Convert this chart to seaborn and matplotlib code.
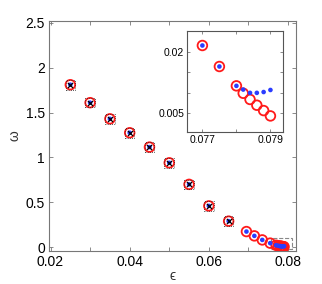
import matplotlib
matplotlib.use("Agg")
import matplotlib.pyplot as plt
import seaborn as sns
import pandas as pd
from matplotlib.patches import Rectangle

# main curve: epsilon vs omega
eps_main = [0.025, 0.030, 0.035, 0.040, 0.045, 0.050, 0.055, 0.060, 0.065,
            0.0695, 0.0715, 0.0735, 0.0755, 0.077, 0.0775, 0.078,
            0.0782, 0.0784, 0.0786, 0.0788, 0.079]
omega_red = [1.81, 1.61, 1.43, 1.275, 1.115, 0.94, 0.70, 0.46, 0.29,
             0.174, 0.126, 0.081, 0.045, 0.0215, 0.0164, 0.0117,
             0.0099, 0.0084, 0.0070, 0.0057, 0.0044]
omega_blue = [1.81, 1.61, 1.43, 1.275, 1.115, 0.94, 0.70, 0.46, 0.29,
              0.174, 0.126, 0.081, 0.045, 0.0215, 0.0164, 0.0117,
              0.0108, 0.0100, 0.0100, 0.0102, 0.0107]
# black reference points only up to 0.065
eps_black = eps_main[:9]
omega_black = omega_red[:9]

df = pd.DataFrame({"eps": eps_main, "red": omega_red, "blue": omega_blue})
df_black = pd.DataFrame({"eps": eps_black, "omega": omega_black})

sns.set_style("ticks")
plt.rcParams["font.family"] = ["Liberation Sans", "DejaVu Sans"]

fig = plt.figure(figsize=(3.22, 2.84), dpi=100)
ax = fig.add_axes([0.152, 0.117, 0.767, 0.809])


def draw_points(a, d, big, small, black=None):
    sns.scatterplot(data=d, x="eps", y="red", ax=a, marker="o", s=big,
                    facecolors="none", edgecolors="#ff1a1a", linewidths=1.3,
                    zorder=3, legend=False)
    sns.scatterplot(data=d, x="eps", y="blue", ax=a, marker="o", s=small,
                    color="#2a3cff", edgecolor="none", zorder=4, legend=False)
    if black is not None:
        sns.scatterplot(data=black, x="eps", y="omega", ax=a, marker="s", s=48,
                        facecolors="none", edgecolors="#222222", linewidths=0.6,
                        linestyle=":", zorder=5, legend=False)
        sns.scatterplot(data=black, x="eps", y="omega", ax=a, marker="x", s=14,
                        color="black", linewidths=0.9, zorder=6, legend=False)


draw_points(ax, df, 48, 11, df_black)

ax.add_patch(Rectangle((0.0756, -0.022), 0.0055, 0.12, fill=False,
                       edgecolor="#888888", linestyle="--", linewidth=0.8, zorder=2))

ax.set_xlim(0.0196, 0.082)
ax.set_ylim(-0.04, 2.52)
ax.set_xticks([0.02, 0.03, 0.04, 0.05, 0.06, 0.07, 0.08])
ax.set_xticklabels(["0.02", "", "0.04", "", "0.06", "", "0.08"])
ax.set_yticks([0, 0.5, 1, 1.5, 2, 2.5])
ax.set_yticklabels(["0", "0.5", "1", "1.5", "2", "2.5"])
ax.set_xlabel("ϵ", fontsize=10, labelpad=0, color="#333333")
ax.set_ylabel("ω", fontsize=10, labelpad=3, color="#333333")

ax.tick_params(direction="in", top=True, right=True, length=3, width=0.6,
               colors="#777777", labelcolor="black", labelsize=10)
ax.tick_params(axis="x", pad=3)
ax.tick_params(axis="y", pad=3)
for sp in ax.spines.values():
    sp.set_visible(True)
    sp.set_color("#777777")
    sp.set_linewidth(0.8)

# inset zoom
axi = fig.add_axes([0.581, 0.536, 0.299, 0.356])
draw_points(axi, df, 48, 11)
axi.set_xlim(0.07655, 0.07938)
axi.set_ylim(0.00055, 0.0251)
axi.set_xticks([0.077, 0.078, 0.079])
axi.set_xticklabels(["0.077", "", "0.079"])
axi.set_yticks([0.005, 0.01, 0.015, 0.02])
axi.set_yticklabels(["0.005", "", "", "0.02"])
axi.set_xlabel("")
axi.set_ylabel("")
axi.tick_params(direction="in", top=True, right=True, length=2.5, width=0.6,
                colors="#777777", labelcolor="black", labelsize=7.5, pad=2)
for sp in axi.spines.values():
    sp.set_visible(True)
    sp.set_color("#555555")
    sp.set_linewidth(0.8)

fig.savefig("out.png", dpi=100)
